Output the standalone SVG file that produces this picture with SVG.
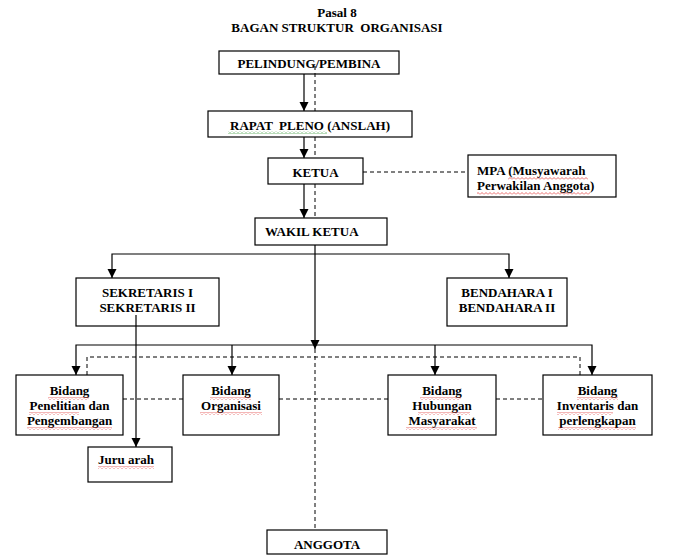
<svg xmlns="http://www.w3.org/2000/svg" width="675" height="559" viewBox="0 0 675 559">
<style>
.box{fill:#fff;stroke:#000;stroke-width:1.2}
text{font-family:"Liberation Serif","Times New Roman",serif;font-weight:bold;font-size:13px;fill:#000}
.c{text-anchor:middle}
.s{fill:none;stroke:#000;stroke-width:1.2}
.d{fill:none;stroke:#000;stroke-width:1;stroke-dasharray:4 3}
.w{fill:url(#wavy)}
.g{fill:url(#wavyg)}
</style>
<defs>
<marker id="ah" markerUnits="userSpaceOnUse" markerWidth="10" markerHeight="10" refX="9" refY="4.5" orient="auto">
<path d="M0,0 L9,4.5 L0,9 z" fill="#000"/>
</marker>
<pattern id="wavy" patternUnits="userSpaceOnUse" width="4" height="3">
<polyline points="0,2.5 2,0.5 4,2.5" fill="none" stroke="#e03030" stroke-width="0.7"/>
</pattern>
<pattern id="wavyg" patternUnits="userSpaceOnUse" width="4" height="3">
<polyline points="0,2.5 2,0.5 4,2.5" fill="none" stroke="#3a9a3a" stroke-width="0.7"/>
</pattern>
</defs>
<rect width="675" height="559" fill="#fff"/>
<g id="title">
<text class="c" x="337" y="17">Pasal 8</text>
<text class="c" x="337" y="32" xml:space="preserve">BAGAN STRUKTUR  ORGANISASI</text>
</g>
<g id="pelindung">
<rect class="box" x="219" y="51" width="180" height="23"/>
<text class="c" x="309" y="67.5" font-size="12">PELINDUNG/PEMBINA</text>
</g>
<g id="rapat">
<rect class="box" x="208" y="111" width="204" height="26"/>
<text class="c" x="310" y="129.5" xml:space="preserve">RAPAT  PLENO (ANSLAH)</text>
<rect class="g" x="228" y="131" width="99" height="3"/>
</g>
<g id="ketua">
<rect class="box" x="268" y="158" width="95" height="26"/>
<text class="c" x="315.5" y="176.5">KETUA</text>
</g>
<g id="mpa">
<rect class="box" x="468" y="155" width="148" height="42"/>
<text x="477" y="175">MPA (Musyawarah</text>
<text x="477" y="190">Perwakilan Anggota)</text>
<rect class="w" x="508" y="177" width="80" height="3"/>
<rect class="w" x="477" y="192" width="113" height="3"/>
</g>
<g id="wakil">
<rect class="box" x="255" y="218" width="132" height="27"/>
<text x="265" y="235.5">WAKIL KETUA</text>
</g>
<g id="sekretaris">
<rect class="box" x="76" y="278" width="143" height="48"/>
<text class="c" x="147.5" y="297">SEKRETARIS I</text>
<text class="c" x="147.5" y="311.5">SEKRETARIS II</text>
</g>
<g id="bendahara">
<rect class="box" x="447" y="278" width="120" height="48"/>
<text class="c" x="507" y="297">BENDAHARA I</text>
<text class="c" x="507" y="311.5">BENDAHARA II</text>
</g>
<g id="bidang-penelitian">
<rect class="box" x="16" y="375" width="107" height="60"/>
<text class="c" x="69.5" y="395">Bidang</text>
<text class="c" x="69.5" y="410">Penelitian dan</text>
<text class="c" x="69.5" y="425">Pengembangan</text>
<rect class="w" x="48" y="397" width="41" height="3"/>
<rect class="w" x="29" y="412" width="50" height="3"/>
<rect class="w" x="27" y="427" width="85" height="3"/>
</g>
<g id="bidang-organisasi">
<rect class="box" x="183" y="375" width="96" height="60"/>
<text class="c" x="231" y="395">Bidang</text>
<text class="c" x="231" y="410">Organisasi</text>
<rect class="w" x="210" y="397" width="41" height="3"/>
<rect class="w" x="200" y="412" width="62" height="3"/>
</g>
<g id="bidang-hubungan">
<rect class="box" x="388" y="375" width="108" height="60"/>
<text class="c" x="442" y="395">Bidang</text>
<text class="c" x="442" y="410">Hubungan</text>
<text class="c" x="442" y="425">Masyarakat</text>
<rect class="w" x="420" y="397" width="41" height="3"/>
<rect class="w" x="418" y="412" width="52" height="3"/>
<rect class="w" x="406" y="427" width="71" height="3"/>
</g>
<g id="bidang-inventaris">
<rect class="box" x="543" y="375" width="109" height="60"/>
<text class="c" x="597.5" y="395">Bidang</text>
<text class="c" x="597.5" y="410">Inventaris dan</text>
<text class="c" x="597.5" y="425">perlengkapan</text>
<rect class="w" x="577" y="397" width="41" height="3"/>
<rect class="w" x="557" y="412" width="56" height="3"/>
<rect class="w" x="558" y="427" width="78" height="3"/>
</g>
<g id="juru-arah">
<rect class="box" x="88" y="447" width="84" height="35"/>
<text x="98" y="464">Juru arah</text>
<rect class="w" x="98" y="466" width="56" height="3"/>
</g>
<g id="anggota">
<rect class="box" x="267" y="530" width="120" height="24"/>
<text class="c" x="327" y="549">ANGGOTA</text>
</g>
<g id="connectors">
<path class="s" d="M304,74 V111" marker-end="url(#ah)"/>
<path class="s" d="M304,137 V158" marker-end="url(#ah)"/>
<path class="s" d="M304,184 V218" marker-end="url(#ah)"/>
<path class="s" d="M315,245 V349" marker-end="url(#ah)"/>
<path class="s" d="M315,254 H112 V278" marker-end="url(#ah)"/>
<path class="s" d="M315,254 H509 V278" marker-end="url(#ah)"/>
<path class="s" d="M315,345 H76 V375" marker-end="url(#ah)"/>
<path class="s" d="M232,345 V375" marker-end="url(#ah)"/>
<path class="s" d="M435,345 V375" marker-end="url(#ah)"/>
<path class="s" d="M315,345 H592 V375" marker-end="url(#ah)"/>
<path class="s" d="M136,315 V447" marker-end="url(#ah)"/>
<path class="d" d="M315,66 V111"/>
<path class="d" d="M315,137 V158"/>
<path class="d" d="M315,184 V218"/>
<path class="d" d="M315,349 V530"/>
<path class="d" d="M363,172 H468"/>
<path class="d" d="M87,375 V357 H580 V375"/>
<path class="d" d="M123,399 H183"/>
<path class="d" d="M279,399 H388"/>
<path class="d" d="M496,399 H543"/>
</g>
</svg>
